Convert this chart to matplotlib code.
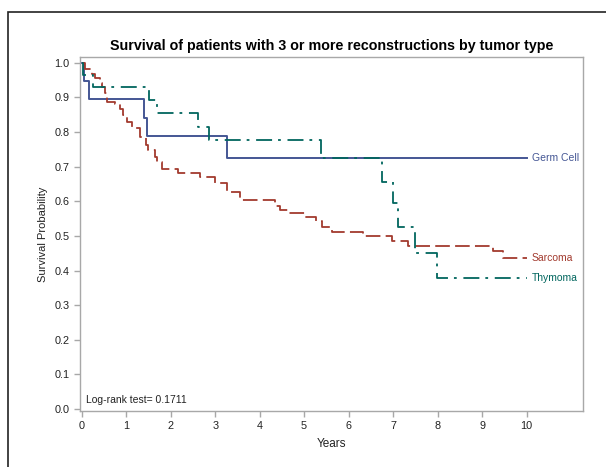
import matplotlib
matplotlib.use('Agg')
import matplotlib.pyplot as plt
from matplotlib.patches import Rectangle

# Kaplan-Meier step data
germ_t = [0, 0.05, 0.17, 1.40, 1.46, 3.27, 10]
germ_s = [1.0, 0.947, 0.895, 0.842, 0.789, 0.724, 0.724]

sarc_t = [0, 0.07, 0.22, 0.30, 0.40, 0.45, 0.52, 0.56, 0.75, 0.86, 0.93, 1.01,
          1.12, 1.31, 1.44, 1.50, 1.65, 1.69, 1.80, 2.17, 2.66, 3.00, 3.26,
          3.56, 4.35, 4.46, 4.64, 5.02, 5.27, 5.40, 5.62, 6.32, 6.97, 7.33,
          9.24, 9.47, 10]
sarc_s = [1.0, 0.983, 0.968, 0.957, 0.941, 0.93, 0.914, 0.888, 0.881, 0.866,
          0.85, 0.83, 0.811, 0.787, 0.763, 0.749, 0.729, 0.715, 0.693, 0.681,
          0.670, 0.654, 0.626, 0.604, 0.587, 0.575, 0.565, 0.556, 0.544, 0.525,
          0.512, 0.501, 0.486, 0.471, 0.455, 0.436, 0.436]

thym_t = [0, 0.02, 0.26, 1.51, 1.69, 2.62, 2.86, 5.37, 6.74, 6.99, 7.12,
          7.49, 7.98, 10]
thym_s = [1.0, 0.964, 0.929, 0.893, 0.855, 0.814, 0.776, 0.726, 0.657, 0.596,
          0.527, 0.452, 0.378, 0.378]

x_ticks = list(range(0, 11))
y_ticks = [0.0, 0.1, 0.2, 0.3, 0.4, 0.5, 0.6, 0.7, 0.8, 0.9, 1.0]

plt.rcParams['font.family'] = ['Liberation Sans', 'DejaVu Sans']
plt.rcParams['lines.scale_dashes'] = False

fig = plt.figure(figsize=(6.06, 4.67), dpi=100)
ax = fig.add_axes([80 / 606, 1 - 411 / 467, 503 / 606, 354 / 467])

# outer border of the graph
fig.patches.append(Rectangle((8 / 606, -0.1), 1.2, (467 - 12) / 467 + 0.1,
                             transform=fig.transFigure, fill=False,
                             edgecolor='#222222', linewidth=1.2))

c_germ = '#445694'
c_sarc = '#A23A2E'
c_thym = '#01665E'

ax.plot(germ_t, germ_s, drawstyle='steps-post', color=c_germ, linewidth=1.4)
ax.plot(sarc_t, sarc_s, drawstyle='steps-post', color=c_sarc, linewidth=1.3,
        dashes=(10.5, 3.8))
ax.plot(thym_t, thym_s, drawstyle='steps-post', color=c_thym, linewidth=1.3,
        dashes=(11.5, 4.3, 2, 4.8))

ax.text(10.12, germ_s[-1], 'Germ Cell', color=c_germ, fontsize=7.5, va='center')
ax.text(10.12, sarc_s[-1], 'Sarcoma', color=c_sarc, fontsize=7.5, va='center')
ax.text(10.12, thym_s[-1], 'Thymoma', color=c_thym, fontsize=7.5, va='center')

ax.text(0.1, 0.016, 'Log-rank test= 0.1711', fontsize=7.5, color='#222222')

ax.set_xlim(-0.04, 11.27)
ax.set_ylim(-0.006, 1.017)
ax.set_xticks(x_ticks)
ax.set_yticks(y_ticks)
ax.set_yticklabels(['%.1f' % v for v in y_ticks])

for s in ax.spines.values():
    s.set_color('#A8A8A8')
    s.set_linewidth(1.0)
ax.tick_params(colors='#A8A8A8', labelcolor='#222222', labelsize=7.8,
               length=4, width=1.0)

ax.set_xlabel('Years', fontsize=8.5, color='#222222', labelpad=5)
ax.set_ylabel('Survival Probability', fontsize=8, color='#222222', labelpad=5)
ax.set_title('Survival of patients with 3 or more reconstructions by tumor type',
             fontsize=10.3, fontweight='bold', pad=5)

plt.savefig('out.png', dpi=100)
